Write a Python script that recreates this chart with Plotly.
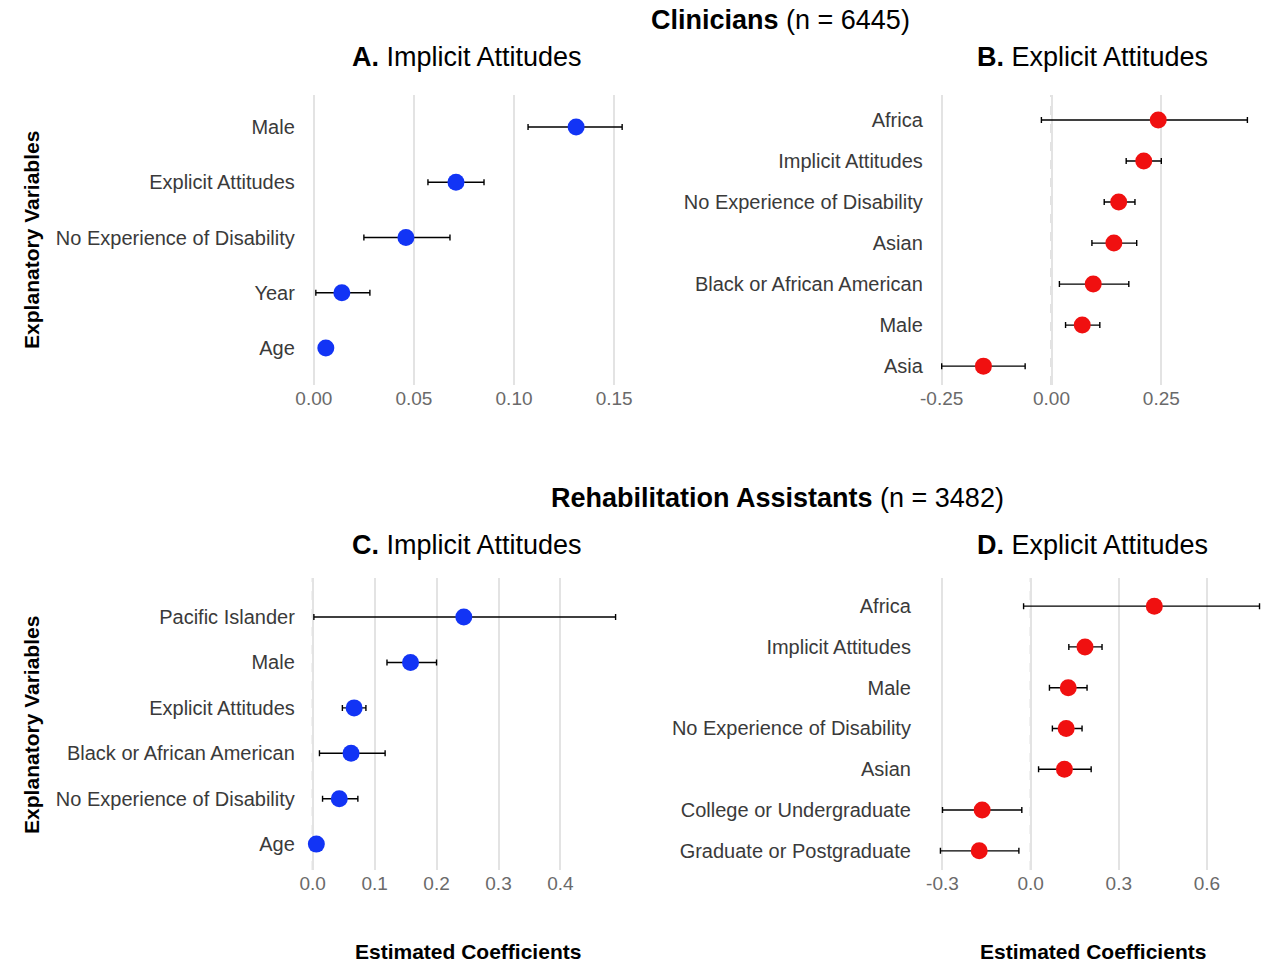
import plotly.graph_objects as go

# Panel A
a_cats = ["Age", "Year", "No Experience of Disability", "Explicit Attitudes", "Male"]
a_est = [0.006, 0.014, 0.046, 0.071, 0.131]
a_lo = [0.004, 0.001, 0.025, 0.057, 0.107]
a_hi = [0.008, 0.028, 0.068, 0.085, 0.154]
# Panel B
b_cats = ["Asia", "Male", "Black or African American", "Asian", "No Experience of Disability", "Implicit Attitudes", "Africa"]
b_est = [-0.155, 0.070, 0.095, 0.142, 0.153, 0.210, 0.243]
b_lo = [-0.250, 0.032, 0.018, 0.092, 0.120, 0.170, -0.023]
b_hi = [-0.060, 0.110, 0.176, 0.194, 0.190, 0.250, 0.446]
# Panel C
c_cats = ["Age", "No Experience of Disability", "Black or African American", "Explicit Attitudes", "Male", "Pacific Islander"]
c_est = [0.006, 0.043, 0.062, 0.067, 0.158, 0.244]
c_lo = [0.004, 0.016, 0.011, 0.048, 0.120, 0.002]
c_hi = [0.008, 0.073, 0.117, 0.086, 0.200, 0.489]
# Panel D
d_cats = ["Graduate or Postgraduate", "College or Undergraduate", "Asian", "No Experience of Disability", "Male", "Implicit Attitudes", "Africa"]
d_est = [-0.175, -0.165, 0.115, 0.121, 0.128, 0.185, 0.421]
d_lo = [-0.307, -0.300, 0.027, 0.074, 0.064, 0.130, -0.024]
d_hi = [-0.040, -0.030, 0.206, 0.175, 0.192, 0.243, 0.779]

BLUE = "#1234f5"
RED = "#f01010"
FONT = "Liberation Sans"
W, H, OFF = 1264, 954, 8

def fx(px0, px1):
    return [(px0 - OFF) / W, min(1.0, (px1 - OFF) / W)]
def fy(top, bot):
    return [1 - (bot - OFF) / H, 1 - (top - OFF) / H]

panels = [
    (a_cats, a_est, a_lo, a_hi, BLUE, fx(295, 625), fy(95, 385), [-0.004, 0.159], [-0.67, 4.58], [0, 0.05, 0.10, 0.15], ["0.00", "0.05", "0.10", "0.15"]),
    (b_cats, b_est, b_lo, b_hi, RED, fx(930, 1272), fy(95, 385), [-0.268, 0.502], [-0.46, 6.61], [-0.25, 0, 0.25, 0.5], ["-0.25", "0.00", "0.25", "0.50"]),
    (c_cats, c_est, c_lo, c_hi, BLUE, fx(295, 612), fy(578, 870), [-0.011, 0.495], [-0.57, 5.86], [0, 0.1, 0.2, 0.3, 0.4], ["0.0", "0.1", "0.2", "0.3", "0.4"]),
    (d_cats, d_est, d_lo, d_hi, RED, fx(918, 1268), fy(578, 870), [-0.37, 0.808], [-0.47, 6.69], [-0.3, 0, 0.3, 0.6], ["-0.3", "0.0", "0.3", "0.6"]),
]

fig = go.Figure()
layout = {}
for i, (cats, est, lo, hi, col, xd, yd, xr, yr, tv, tt) in enumerate(panels):
    n = "" if i == 0 else str(i + 1)
    ys = list(range(len(cats)))
    fig.add_trace(go.Scatter(
        x=est, y=ys, mode="markers",
        marker=dict(size=17, color=col),
        error_x=dict(type="data", symmetric=False,
                     array=[h - e for h, e in zip(hi, est)],
                     arrayminus=[e - l for e, l in zip(est, lo)],
                     color="black", thickness=1.4, width=3),
        xaxis="x" + n, yaxis="y" + n, showlegend=False, cliponaxis=False))
    layout["xaxis" + n] = dict(domain=xd, anchor="y" + n, range=xr, tickvals=tv, ticktext=tt,
                               showgrid=True, gridcolor="#e3e3e3", gridwidth=1.5, zeroline=False,
                               tickfont=dict(size=19, color="#6a6a6a", family=FONT), ticks="", showline=False)
    layout["yaxis" + n] = dict(domain=yd, anchor="x" + n, range=yr, tickvals=ys, ticktext=cats,
                               showgrid=False, zeroline=False, ticks="outside", ticklen=6, tickcolor="rgba(0,0,0,0)",
                               tickfont=dict(size=20, color="#3a3a3a", family=FONT), showline=False)
    fig.add_shape(type="line", x0=0, x1=0, y0=0, y1=1, xref="x" + n, yref="y" + n + " domain",
                  line=dict(color="#888", width=1.5, dash="dash"), layer="below")

ann = []
def A(x, y, t, size=27, angle=0):
    ann.append(dict(x=(x - OFF) / W, y=1 - (y - OFF) / H, xref="paper", yref="paper", text=t, showarrow=False,
                    font=dict(size=size, color="black", family=FONT), textangle=angle,
                    xanchor="center", yanchor="middle"))
A(775, 20, "<b>Clinicians</b> (n = 6445)")
A(458, 57, "<b>A.</b> Implicit Attitudes")
A(1090, 57, "<b>B.</b> Explicit Attitudes")
A(772, 498, "<b>Rehabilitation Assistants</b> (n = 3482)")
A(458, 545, "<b>C.</b> Implicit Attitudes")
A(1090, 545, "<b>D.</b> Explicit Attitudes")
A(17, 240, "<b>Explanatory Variables</b>", 21, -90)
A(17, 725, "<b>Explanatory Variables</b>", 21, -90)
A(459, 951, "<b>Estimated Coefficients</b>", 21)
A(1091, 951, "<b>Estimated Coefficients</b>", 21)

fig.update_layout(width=W, height=H, margin=dict(l=0, r=0, t=0, b=0),
                  plot_bgcolor="white", paper_bgcolor="white", annotations=ann,
                  font=dict(family=FONT), **layout)
fig.write_html("out.html")
